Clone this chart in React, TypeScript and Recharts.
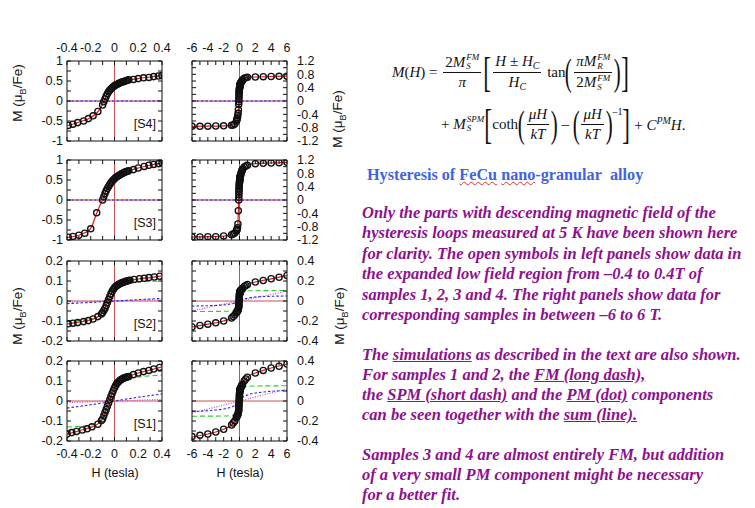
import React from "react";
import { ComposedChart, Line, Scatter, XAxis, YAxis, ReferenceLine } from "recharts";

// [H (tesla), M (muB/Fe)], descending-field branch

// sample 4
const s4Pts = [
  [-0.39, -0.61], [-0.35, -0.58], [-0.31, -0.54], [-0.26, -0.5], [-0.22, -0.44], [-0.18, -0.37], [-0.14, -0.26],
  [-0.1, -0.1], [-0.09, -0.02], [-0.08, 0.05], [-0.07, 0.12], [-0.06, 0.18], [-0.05, 0.23], [-0.04, 0.27],
  [-0.03, 0.3], [-0.02, 0.33], [-0.01, 0.355], [0, 0.38], [0.01, 0.4], [0.02, 0.415], [0.03, 0.43],
  [0.04, 0.445], [0.05, 0.46], [0.06, 0.47], [0.07, 0.48], [0.08, 0.49], [0.09, 0.5], [0.1, 0.51],
  [0.11, 0.52], [0.12, 0.53],
  [0.16, 0.54], [0.2, 0.56], [0.245, 0.58], [0.29, 0.59], [0.33, 0.61], [0.37, 0.625], [0.4, 0.64],
];
const s4PtsHi = [
  [-6, -0.76], [-5, -0.76], [-4, -0.755], [-3, -0.75], [-2, -0.745], [-1, -0.73], [-0.8, -0.72], [-0.6, -0.69],
  [0.6, 0.68], [0.8, 0.7], [1, 0.71], [2, 0.72], [3, 0.73], [4, 0.735], [5, 0.74], [6, 0.745],
];
const s4Sum = [
  [-0.4, -0.62], [-0.3, -0.53], [-0.2, -0.41], [-0.15, -0.3], [-0.12, -0.19], [-0.1, -0.08], [-0.08, 0.05],
  [-0.05, 0.23], [-0.02, 0.33], [0, 0.38], [0.05, 0.46], [0.1, 0.51], [0.2, 0.56], [0.3, 0.6], [0.4, 0.64],
];
const s4SumHi = [
  [-6, -0.76], [-4, -0.755], [-2, -0.745], [-1, -0.73], [-0.6, -0.69],
  [0.6, 0.68], [1, 0.71], [2, 0.72], [4, 0.735], [6, 0.745],
];
const s4Spm = [[-0.4, 0], [0.4, 0]];
const s4SpmHi = [[-6, 0], [6, 0]];
const s4Pm = [[-0.4, 0], [0.4, 0]];
const s4PmHi = [[-6, 0], [6, 0]];

// sample 3
const s3Pts = [
  [-0.39, -0.93], [-0.35, -0.91], [-0.3, -0.88], [-0.25, -0.83], [-0.2, -0.72], [-0.15, -0.32],
  [-0.1, 0], [-0.09, 0.08], [-0.08, 0.16], [-0.07, 0.23], [-0.06, 0.29], [-0.05, 0.34], [-0.04, 0.39],
  [-0.03, 0.43], [-0.02, 0.47], [-0.01, 0.5], [0, 0.53], [0.01, 0.56], [0.02, 0.58], [0.03, 0.6],
  [0.04, 0.62], [0.05, 0.64], [0.06, 0.655], [0.07, 0.67], [0.08, 0.685], [0.09, 0.7], [0.1, 0.71],
  [0.11, 0.72], [0.12, 0.73],
  [0.16, 0.76], [0.2, 0.8], [0.25, 0.84], [0.29, 0.87], [0.33, 0.89], [0.37, 0.91], [0.4, 0.93],
];
const s3PtsHi = [
  [-6, -1.11], [-5, -1.11], [-4, -1.1], [-3, -1.1], [-2, -1.08], [-1, -1.04], [-0.8, -1.02], [-0.6, -0.99],
  [0.6, 0.99], [0.8, 1.02], [1, 1.04], [2, 1.09], [3, 1.1], [4, 1.11], [5, 1.12], [6, 1.13],
];
const s3Sum = [
  [-0.4, -0.94], [-0.3, -0.88], [-0.25, -0.82], [-0.2, -0.71], [-0.15, -0.33], [-0.12, -0.12], [-0.1, 0],
  [-0.07, 0.23], [-0.04, 0.39], [0, 0.53], [0.05, 0.64], [0.1, 0.71], [0.2, 0.8], [0.3, 0.87], [0.4, 0.93],
];
const s3SumHi = [
  [-6, -1.11], [-4, -1.1], [-2, -1.08], [-1, -1.04], [-0.6, -0.99],
  [0.6, 0.99], [1, 1.04], [2, 1.09], [4, 1.11], [6, 1.13],
];
const s3Spm = [[-0.4, 0], [0.4, 0]];
const s3SpmHi = [[-6, 0], [6, 0]];
const s3Pm = [[-0.4, 0], [0.4, 0]];
const s3PmHi = [[-6, 0], [6, 0]];

// sample 2
const s2Pts = [
  [-0.39, -0.114], [-0.35, -0.111], [-0.31, -0.108], [-0.26, -0.103], [-0.22, -0.098], [-0.18, -0.09],
  [-0.14, -0.078],
  [-0.11, -0.065], [-0.1, -0.058], [-0.09, -0.048], [-0.08, -0.037], [-0.07, -0.023], [-0.06, -0.008],
  [-0.05, 0.007], [-0.04, 0.022], [-0.03, 0.036], [-0.02, 0.049], [-0.01, 0.058], [0, 0.066], [0.01, 0.072],
  [0.02, 0.077], [0.03, 0.081], [0.04, 0.085], [0.05, 0.088], [0.06, 0.091], [0.07, 0.093], [0.08, 0.095],
  [0.09, 0.097], [0.1, 0.099], [0.11, 0.101], [0.12, 0.103], [0.13, 0.104],
  [0.165, 0.108], [0.21, 0.111], [0.25, 0.114], [0.29, 0.117], [0.335, 0.12], [0.38, 0.124],
];
const s2PtsHi = [
  [-6, -0.26], [-5, -0.245], [-4, -0.232], [-3, -0.218], [-2, -0.2], [-1, -0.17], [-0.8, -0.155], [-0.6, -0.14],
  [0.6, 0.145], [0.8, 0.155], [1, 0.165], [2, 0.19], [3, 0.205], [4, 0.222], [5, 0.238], [6, 0.255],
];
const s2Sum = [
  [-0.4, -0.115], [-0.3, -0.106], [-0.2, -0.094], [-0.15, -0.082], [-0.12, -0.07], [-0.1, -0.058],
  [-0.08, -0.037], [-0.06, -0.008], [-0.04, 0.022], [-0.02, 0.049], [0, 0.066], [0.03, 0.081], [0.06, 0.091],
  [0.1, 0.099], [0.2, 0.11], [0.3, 0.117], [0.4, 0.126],
];
const s2SumHi = [
  [-6, -0.26], [-4, -0.232], [-2, -0.2], [-1, -0.17], [-0.6, -0.14],
  [0.6, 0.145], [1, 0.165], [2, 0.19], [4, 0.222], [6, 0.255],
];
const s2Fm = [
  [-0.4, -0.1], [-0.3, -0.097], [-0.2, -0.092], [-0.15, -0.084], [-0.12, -0.072], [-0.1, -0.06],
  [-0.08, -0.04], [-0.06, -0.012], [-0.04, 0.018], [-0.02, 0.044], [0, 0.06], [0.03, 0.074], [0.06, 0.083],
  [0.1, 0.089], [0.2, 0.095], [0.3, 0.098], [0.4, 0.1],
];
const s2FmHi = [[-6, -0.105], [-1, -0.102], [1, 0.102], [6, 0.105]];
const s2Spm = [[-0.4, -0.013], [-0.2, -0.007], [0, 0], [0.2, 0.007], [0.4, 0.013]];
const s2SpmHi = [[-6, -0.05], [-4, -0.047], [-2, -0.04], [-1, -0.028], [1, 0.028], [2, 0.04], [4, 0.047], [6, 0.05]];
const s2Pm = [[-0.4, -0.006], [0.4, 0.006]];
const s2PmHi = [[-6, -0.1], [6, 0.1]];

// sample 1
const s1Pts = [
  [-0.4, -0.165], [-0.36, -0.158], [-0.32, -0.152], [-0.27, -0.145], [-0.23, -0.139], [-0.19, -0.129],
  [-0.14, -0.116], [-0.11, -0.098],
  [-0.1, -0.09], [-0.09, -0.074], [-0.08, -0.058], [-0.07, -0.042], [-0.06, -0.026], [-0.05, -0.01],
  [-0.04, 0.006], [-0.03, 0.022], [-0.02, 0.037], [-0.01, 0.052], [0, 0.066], [0.01, 0.077], [0.02, 0.087],
  [0.03, 0.094], [0.04, 0.1], [0.05, 0.105], [0.06, 0.109], [0.07, 0.112], [0.08, 0.115], [0.09, 0.117],
  [0.1, 0.119], [0.11, 0.121], [0.12, 0.123],
  [0.16, 0.132], [0.2, 0.14], [0.245, 0.147], [0.29, 0.153], [0.33, 0.16], [0.38, 0.168],
];
const s1PtsHi = [
  [-6, -0.356], [-5, -0.343], [-4, -0.33], [-3, -0.31], [-2, -0.282], [-1, -0.24], [-0.8, -0.22], [-0.6, -0.2],
  [0.6, 0.2], [0.8, 0.22], [1, 0.238], [2, 0.28], [3, 0.306], [4, 0.33], [5, 0.348], [6, 0.37],
];
const s1Sum = [
  [-0.4, -0.166], [-0.3, -0.149], [-0.2, -0.132], [-0.15, -0.119], [-0.12, -0.104], [-0.1, -0.09],
  [-0.08, -0.058], [-0.06, -0.026], [-0.04, 0.006], [-0.02, 0.037], [0, 0.066], [0.03, 0.094], [0.06, 0.109],
  [0.1, 0.119], [0.2, 0.14], [0.3, 0.155], [0.4, 0.171],
];
const s1SumHi = [
  [-6, -0.36], [-4, -0.33], [-3, -0.31], [-2, -0.282], [-1, -0.24], [-0.6, -0.2],
  [0.6, 0.2], [1, 0.238], [2, 0.28], [3, 0.306], [4, 0.33], [6, 0.37],
];
const s1Fm = [
  [-0.4, -0.13], [-0.3, -0.127], [-0.2, -0.12], [-0.15, -0.112], [-0.12, -0.1], [-0.1, -0.088],
  [-0.08, -0.062], [-0.06, -0.03], [-0.04, 0.005], [-0.02, 0.035], [0, 0.06], [0.03, 0.085], [0.06, 0.1],
  [0.1, 0.11], [0.2, 0.12], [0.3, 0.126], [0.4, 0.13],
];
const s1FmHi = [[-6, -0.152], [-2, -0.15], [-1, -0.145], [-0.6, -0.138], [0.6, 0.138], [1, 0.145], [2, 0.15], [6, 0.152]];
const s1Spm = [[-0.4, -0.035], [-0.2, -0.019], [0, 0], [0.2, 0.019], [0.4, 0.035]];
const s1SpmHi = [[-6, -0.105], [-4, -0.097], [-3, -0.09], [-2, -0.08], [-1, -0.06], [1, 0.06], [2, 0.08], [3, 0.09], [4, 0.097], [6, 0.105]];
const s1Pm = [[-0.4, -0.008], [0.4, 0.008]];
const s1PmHi = [[-6, -0.12], [6, 0.12]];

// axis ticks
const lowXTicks = [-0.4, -0.3, -0.2, -0.1, 0, 0.1, 0.2, 0.3, 0.4];
const lowXLabels = [-0.4, -0.2, 0, 0.2, 0.4];
const highXTicks = [-6, -5, -4, -3, -2, -1, 0, 1, 2, 3, 4, 5, 6];
const highXLabels = [-6, -4, -2, 0, 2, 4, 6];
const bigYTicks = [-1, -0.75, -0.5, -0.25, 0, 0.25, 0.5, 0.75, 1];
const bigYLabels = [-1, -0.5, 0, 0.5, 1];
const smallYTicks = [-0.2, -0.15, -0.1, -0.05, 0, 0.05, 0.1, 0.15, 0.2];
const smallYLabels = [-0.2, -0.1, 0, 0.1, 0.2];
const bigYTicksHi = [-1.2, -1, -0.8, -0.6, -0.4, -0.2, 0, 0.2, 0.4, 0.6, 0.8, 1, 1.2];
const bigYLabelsHi = [-1.2, -0.8, -0.4, 0, 0.4, 0.8, 1.2];
const smallYTicksHi = [-0.4, -0.3, -0.2, -0.1, 0, 0.1, 0.2, 0.3, 0.4];
const smallYLabelsHi = [-0.4, -0.2, 0, 0.2, 0.4];

type Pt = { h: number; m: number };
const merge = (...parts: number[][][]): Pt[] =>
  parts
    .flat()
    .map(([h, m]) => ({ h, m }))
    .sort((a, b) => a.h - b.h);

const SANS = '"Liberation Sans", Arial, Helvetica, sans-serif';
const SERIF = '"Liberation Serif", "Times New Roman", serif';
const blank = () => "";
const ringShape = (p: any) => (
  <circle cx={p.cx} cy={p.cy} r={3.1} fill="none" stroke="#111" strokeWidth={1.35} />
);

// the frame axes are mirrored (ticks point inwards); when a panel carries x tick
// labels they are drawn by the same axis, shifted out past the frame
const makeXTick = (labels: number[] | null, dy: number) => (props: any) => {
  const v = Number(props.payload?.value);
  if (!labels || !labels.some((l) => Math.abs(l - v) < 1e-9)) return <g />;
  return (
    <text x={props.x} y={props.y + dy} textAnchor="middle" fontSize={12.5} fontFamily={SANS} fill="#111">
      {String(v)}
    </text>
  );
};

type PanelProps = {
  x: number;
  y: number;
  xDomain: number[];
  xTicks: number[];
  xLabels: number[];
  yDomain: number[];
  yTicks: number[];
  yLabels: number[];
  side: "left" | "right";
  showTop?: boolean;
  showBottom?: boolean;
  points: Pt[];
  sum: Pt[];
  fm?: Pt[];
  spm: Pt[];
  pm: Pt[];
  tag?: string;
};

const BW = 95;
const BH = 80;
const PADX = 12;
const PADY = 9;
const Y_LABEL_W = 30;
const X_LABEL_H = 20;

function Panel(p: PanelProps) {
  const leftRes = PADX + (p.side === "left" ? Y_LABEL_W : 0);
  const rightRes = PADX + (p.side === "right" ? Y_LABEL_W : 0);
  const topRes = PADY + (p.showTop ? X_LABEL_H : 0);
  const botRes = PADY + (p.showBottom ? X_LABEL_H : 0);
  const tickFont = { fontSize: 12.5, fill: "#111", fontFamily: SANS };
  const frame = { stroke: "#111", strokeWidth: 1 };
  const topTick = makeXTick(p.showTop ? p.xLabels : null, -13);
  const bottomTick = makeXTick(p.showBottom ? p.xLabels : null, 20.5);
  return (
    <div style={{ position: "absolute", left: p.x - leftRes, top: p.y - topRes }}>
      <ComposedChart
        width={leftRes + BW + rightRes}
        height={topRes + BH + botRes}
        margin={{ top: topRes, right: PADX, bottom: botRes, left: PADX }}
      >
        <YAxis yAxisId="labels" type="number" domain={p.yDomain} ticks={p.yLabels} allowDataOverflow
          orientation={p.side} width={Y_LABEL_W} tickSize={0} tickMargin={p.side === "left" ? 4 : 10}
          axisLine={false} tickLine={false} tick={tickFont} interval={0} />
        {/* frame with inward ticks */}
        <XAxis xAxisId="main" dataKey="h" type="number" domain={p.xDomain} ticks={p.xTicks}
          allowDataOverflow orientation="bottom" mirror tickSize={4} tickMargin={0} tick={bottomTick}
          axisLine={frame} tickLine={frame} interval={0} />
        <XAxis xAxisId="top" dataKey="h" type="number" domain={p.xDomain} ticks={p.xTicks} allowDataOverflow
          orientation="top" mirror tickSize={4} tickMargin={0} tick={topTick} axisLine={frame}
          tickLine={frame} interval={0} />
        <YAxis yAxisId="main" dataKey="m" type="number" domain={p.yDomain} ticks={p.yTicks}
          allowDataOverflow orientation="left" mirror tickSize={4} tickFormatter={blank}
          axisLine={frame} tickLine={frame} interval={0} />
        <YAxis yAxisId="right" type="number" domain={p.yDomain} ticks={p.yTicks} allowDataOverflow
          orientation="right" mirror tickSize={4} tickFormatter={blank} axisLine={frame} tickLine={frame}
          interval={0} />

        <ReferenceLine xAxisId="main" yAxisId="main" x={0} stroke="#c85050" strokeWidth={1} />
        <ReferenceLine xAxisId="main" yAxisId="main" y={0} stroke="#c85050" strokeWidth={1} />

        <Scatter xAxisId="main" yAxisId="main" data={p.points} shape={ringShape} isAnimationActive={false} />
        <Line xAxisId="main" yAxisId="main" data={p.pm} dataKey="m" type="monotone" stroke="#d048d0"
          strokeWidth={1.2} strokeDasharray="1 1.5" dot={false} isAnimationActive={false} />
        <Line xAxisId="main" yAxisId="main" data={p.spm} dataKey="m" type="monotone" stroke="#2a2ad8"
          strokeWidth={1.1} strokeDasharray="2.5 2" dot={false} isAnimationActive={false} />
        {p.fm && (
          <Line xAxisId="main" yAxisId="main" data={p.fm} dataKey="m" type="monotone" stroke="#2ccc2c"
            strokeWidth={1.1} strokeDasharray="5 3" dot={false} isAnimationActive={false} />
        )}
        <Line xAxisId="main" yAxisId="main" data={p.sum} dataKey="m" type="monotone" stroke="#e01818"
          strokeWidth={1.2} dot={false} isAnimationActive={false} />
      </ComposedChart>
      {p.tag && (
        <div style={{ position: "absolute", left: leftRes + BW - 32, top: topRes + BH - 24, fontFamily: SANS,
          fontSize: 12.5, color: "#111", width: 26, textAlign: "right", lineHeight: "14px" }}>
          {p.tag}
        </div>
      )}
    </div>
  );
}

function MLabel({ cx, cy }: { cx: number; cy: number }) {
  return (
    <div style={{ position: "absolute", left: cx - 40, top: cy - 9, width: 80, height: 18, textAlign: "center",
      transform: "rotate(-90deg)", fontFamily: SANS, fontSize: 13.5, lineHeight: "18px", color: "#111",
      whiteSpace: "nowrap" }}>
      M (μ<sub style={{ fontSize: 9 }}>B</sub>/Fe)
    </div>
  );
}

function HLabel({ cx }: { cx: number }) {
  return (
    <div style={{ position: "absolute", left: cx - 40, top: 465, width: 80, textAlign: "center",
      fontFamily: SANS, fontSize: 12.5, lineHeight: "16px", color: "#111" }}>
      H (tesla)
    </div>
  );
}

// ---- equation pieces ----
function SS({ sup, sub }: { sup: string; sub: string }) {
  return (
    <span style={{ display: "inline-flex", flexDirection: "column", fontSize: "0.6em", lineHeight: 1.0,
      fontStyle: "italic", marginLeft: 1 }}>
      <span>{sup}</span>
      <span>{sub}</span>
    </span>
  );
}
function Frac({ num, den }: { num: React.ReactNode; den: React.ReactNode }) {
  return (
    <span style={{ display: "inline-flex", flexDirection: "column", alignItems: "center", margin: "0 2px" }}>
      <span style={{ borderBottom: "1px solid #111", padding: "0 2px 1px", display: "flex", alignItems: "center" }}>
        {num}
      </span>
      <span style={{ paddingTop: 1, display: "flex", alignItems: "center" }}>{den}</span>
    </span>
  );
}
function Big({ ch, size = 42 }: { ch: string; size?: number }) {
  return (
    <span style={{ fontSize: size, lineHeight: 1, display: "inline-block", transform: "scaleX(0.55)",
      fontWeight: 300, margin: "0 -3px" }}>
      {ch}
    </span>
  );
}
const I = ({ children }: { children: React.ReactNode }) => <i>{children}</i>;
const subC = { fontSize: 10, fontStyle: "italic" as const, verticalAlign: "-3px" };

function Equation() {
  const row = { position: "absolute" as const, display: "flex", alignItems: "center", fontFamily: SERIF,
    fontSize: 15, color: "#111", whiteSpace: "nowrap" as const, height: 48 };
  return (
    <>
      <div style={{ ...row, left: 392, top: 48 }}>
        <span><I>M</I>(<I>H</I>)&nbsp;=&nbsp;</span>
        <Frac num={<>2<I>M</I><SS sup="FM" sub="S" /></>} den={<I>π</I>} />
        <Big ch="[" />
        <Frac num={<span><I>H</I>&nbsp;±&nbsp;<I>H</I><span style={subC}>C</span></span>}
          den={<span><I>H</I><span style={subC}>C</span></span>} />
        <span>&nbsp;tan</span>
        <Big ch="(" size={38} />
        <Frac num={<><I>πM</I><SS sup="FM" sub="R" /></>} den={<>2<I>M</I><SS sup="FM" sub="S" /></>} />
        <Big ch=")" size={38} />
        <Big ch="]" />
      </div>
      <div style={{ ...row, left: 441, top: 100 }}>
        <span>+&nbsp;<I>M</I></span><SS sup="SPM" sub="S" />
        <Big ch="[" />
        <span>coth</span>
        <Big ch="(" size={38} />
        <Frac num={<I>μH</I>} den={<I>kT</I>} />
        <Big ch=")" size={38} />
        <span>&nbsp;–&nbsp;</span>
        <Big ch="(" size={38} />
        <Frac num={<I>μH</I>} den={<I>kT</I>} />
        <Big ch=")" size={38} />
        <span style={{ fontSize: 10, alignSelf: "flex-start", marginTop: 6 }}>–1</span>
        <Big ch="]" />
        <span>
          &nbsp;+&nbsp;<I>C</I><span style={{ fontSize: 10, fontStyle: "italic", verticalAlign: "6px" }}>PM</span><I>H</I>.
        </span>
      </div>
    </>
  );
}

const PURPLE = "#8e108e";
const para1 = [
  "Only the parts with descending magnetic field of the",
  "hysteresis loops measured at 5 K have been shown here",
  "for clarity. The open symbols in left panels show data in",
  "the expanded low field region from –0.4 to 0.4T of",
  "samples 1, 2, 3 and 4. The right panels show data for",
  "corresponding samples in between –6 to 6 T.",
];

function Notes() {
  const txt = { position: "absolute" as const, left: 362, fontFamily: SERIF, fontSize: 16.5,
    fontWeight: 700, fontStyle: "italic", color: PURPLE, lineHeight: "20.4px", whiteSpace: "nowrap" as const };
  const u = { textDecoration: "underline" };
  const squiggle = { textDecoration: "underline wavy #e03030", textDecorationThickness: "1px" };
  return (
    <>
      <div style={{ position: "absolute", left: 367, top: 165, fontFamily: SERIF, fontSize: 16.2,
        fontWeight: 700, color: "#3f63e6", lineHeight: "20px", whiteSpace: "nowrap" }}>
        Hysteresis of <span style={squiggle}>FeCu</span> <span style={squiggle}>nano</span>-granular&nbsp; alloy
      </div>
      <div style={{ ...txt, top: 203 }}>
        {para1.map((l) => (
          <div key={l}>{l}</div>
        ))}
      </div>
      <div style={{ ...txt, top: 345, lineHeight: "20px" }}>
        <div>The <span style={u}>simulations</span> as described in the text are also shown.</div>
        <div>For samples 1 and 2, the <span style={u}>FM (long dash),</span></div>
        <div>the <span style={u}>SPM (short dash)</span> and the <span style={u}>PM (dot)</span> components</div>
        <div>can be seen together with the <span style={u}>sum (line).</span></div>
        <div>&nbsp;</div>
        <div>Samples 3 and 4 are almost entirely FM, but addition</div>
        <div>of a very small PM component might be necessary</div>
        <div>for a better fit.</div>
      </div>
    </>
  );
}

const LX = 67;
const RX = 192;
const ROWS = [61, 160, 261, 361];

export default function App() {
  const lowBig = { xDomain: [-0.4, 0.4], xTicks: lowXTicks, xLabels: lowXLabels, yDomain: [-1, 1],
    yTicks: bigYTicks, yLabels: bigYLabels, side: "left" as const };
  const lowSmall = { ...lowBig, yDomain: [-0.2, 0.2], yTicks: smallYTicks, yLabels: smallYLabels };
  const hiBig = { xDomain: [-6, 6], xTicks: highXTicks, xLabels: highXLabels, yDomain: [-1.2, 1.2],
    yTicks: bigYTicksHi, yLabels: bigYLabelsHi, side: "right" as const };
  const hiSmall = { ...hiBig, yDomain: [-0.4, 0.4], yTicks: smallYTicksHi, yLabels: smallYLabelsHi };

  return (
    <div style={{ position: "absolute", left: 0, top: 0, width: 755, height: 508, background: "#fff",
      overflow: "hidden" }}>
      {/* left column: low field */}
      <Panel {...lowBig} x={LX} y={ROWS[0]} showTop tag="[S4]" points={merge(s4Pts)} sum={merge(s4Sum)}
        spm={merge(s4Spm)} pm={merge(s4Pm)} />
      <Panel {...lowBig} x={LX} y={ROWS[1]} tag="[S3]" points={merge(s3Pts)} sum={merge(s3Sum)}
        spm={merge(s3Spm)} pm={merge(s3Pm)} />
      <Panel {...lowSmall} x={LX} y={ROWS[2]} tag="[S2]" points={merge(s2Pts)} sum={merge(s2Sum)}
        fm={merge(s2Fm)} spm={merge(s2Spm)} pm={merge(s2Pm)} />
      <Panel {...lowSmall} x={LX} y={ROWS[3]} showBottom tag="[S1]" points={merge(s1Pts)} sum={merge(s1Sum)}
        fm={merge(s1Fm)} spm={merge(s1Spm)} pm={merge(s1Pm)} />

      {/* right column: full field range */}
      <Panel {...hiBig} x={RX} y={ROWS[0]} showTop points={merge(s4PtsHi, s4Pts)} sum={merge(s4SumHi, s4Sum)}
        spm={merge(s4SpmHi)} pm={merge(s4PmHi)} />
      <Panel {...hiBig} x={RX} y={ROWS[1]} points={merge(s3PtsHi, s3Pts)} sum={merge(s3SumHi, s3Sum)}
        spm={merge(s3SpmHi)} pm={merge(s3PmHi)} />
      <Panel {...hiSmall} x={RX} y={ROWS[2]} points={merge(s2PtsHi, s2Pts)} sum={merge(s2SumHi, s2Sum)}
        fm={merge(s2FmHi, s2Fm)} spm={merge(s2SpmHi, s2Spm)} pm={merge(s2PmHi, s2Pm)} />
      <Panel {...hiSmall} x={RX} y={ROWS[3]} showBottom points={merge(s1PtsHi, s1Pts)}
        sum={merge(s1SumHi, s1Sum)} fm={merge(s1FmHi, s1Fm)} spm={merge(s1SpmHi, s1Spm)}
        pm={merge(s1PmHi, s1Pm)} />

      <MLabel cx={18} cy={93} />
      <MLabel cx={18} cy={316} />
      <MLabel cx={338} cy={119} />
      <MLabel cx={340} cy={316} />
      <HLabel cx={115} />
      <HLabel cx={240} />

      <Equation />
      <Notes />
    </div>
  );
}
